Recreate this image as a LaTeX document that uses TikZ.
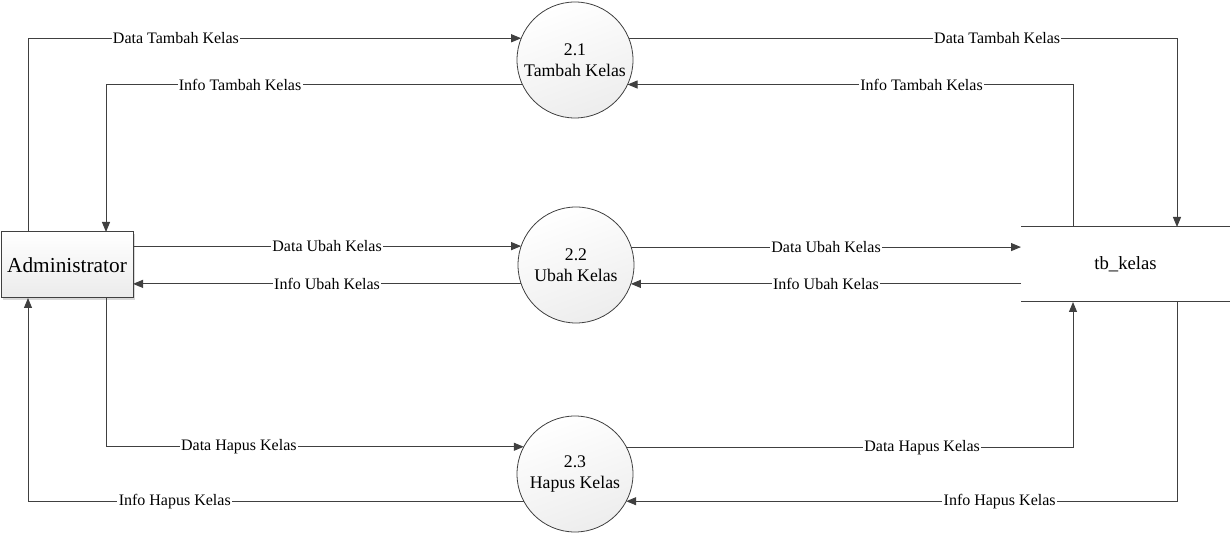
\documentclass[tikz,border=0pt]{standalone}
\usepackage{fontspec}
\setmainfont{Liberation Serif}
\usetikzlibrary{arrows.meta,calc,shadows}
\definecolor{ln}{HTML}{404040}
\tikzset{
  flow/.style={draw=ln, line width=0.75pt, -{Triangle[length=7.5pt,width=6pt]}},
  lbl/.style={fill=white, inner sep=1pt, font=\rmfamily\fontsize{12}{14}\selectfont, text=black},
  proc/.style={circle, draw=ln, line width=0.6pt, minimum size=87pt, inner sep=0pt, outer sep=0pt,
    top color=white, bottom color=black!7, shading angle=20, align=center,
    font=\rmfamily\fontsize{13.3}{15.5}\selectfont},
  ent/.style={draw=ln, line width=0.75pt, minimum width=99pt, minimum height=49.5pt, inner sep=0pt, outer sep=0pt,
    top color=white, bottom color=black!8, drop shadow={shadow xshift=1.2pt, shadow yshift=-1.2pt, fill=black!30},
    font=\rmfamily\fontsize{16}{18}\selectfont},
  store/.style={minimum width=156.75pt, minimum height=56.25pt, inner sep=0pt, outer sep=0pt,
    font=\rmfamily\fontsize{14}{16}\selectfont},
  storeline/.style={draw=ln, line width=0.75pt}
}
\begin{document}
\begin{tikzpicture}[x=0.75pt, y=0.75pt]
\useasboundingbox (0,0) rectangle (1232,-534);
\node[ent] (adm) at (67,-265) {Administrator};
\node[proc] (c1) at (575,-60) {2.1\\Tambah Kelas};
\node[proc] (c2) at (576,-265) {2.2\\Ubah Kelas};
\node[proc] (c3) at (575,-474) {2.3\\Hapus Kelas};
\node[store] (st) at (1125.5,-264.5) {tb\_kelas};
\draw[storeline] (st.north west) -- (st.north east);
\draw[storeline] (st.south west) -- (st.south east);
% Tambah
\draw[flow] ([xshift=20.25pt]adm.north west) |- node[lbl, pos=0.65] {Data Tambah Kelas} (c1.158.8);
\draw[flow] (c1.205.5) -| node[lbl, pos=0.339] {Info Tambah Kelas} ([xshift=78.75pt]adm.north west);
\draw[flow] (c1.22.3) -| node[lbl, pos=0.336] {Data Tambah Kelas} ([xshift=-39.75pt]st.north east);
\draw[flow] ([xshift=39pt]st.north west) |- node[lbl, pos=0.67] {Info Tambah Kelas} (c1.-25.5);
% Ubah
\draw[flow] (adm.east |- c2.161.9) -- node[lbl] {Data Ubah Kelas} (c2.161.9);
\draw[flow] (c2.199.1) -- node[lbl] {Info Ubah Kelas} (adm.east |- c2.199.1);
\draw[flow] (c2.18.1) -- node[lbl] {Data Ubah Kelas} (st.west |- c2.18.1);
\draw[flow] (st.west |- c2.-19.1) -- node[lbl] {Info Ubah Kelas} (c2.-19.1);
% Hapus
\draw[flow] ([xshift=78.75pt]adm.south west) |- node[lbl, pos=0.659] {Data Hapus Kelas} (c3.152.3);
\draw[flow] (c3.208.5) -| node[lbl, pos=0.352] {Info Hapus Kelas} ([xshift=20.25pt]adm.south west);
\draw[flow] (c3.27.7) -| node[lbl, pos=0.331] {Data Hapus Kelas} ([xshift=39pt]st.south west);
\draw[flow] ([xshift=-39.75pt]st.south east) |- node[lbl, pos=0.661] {Info Hapus Kelas} (c3.-28.5);
\end{tikzpicture}
\end{document}
